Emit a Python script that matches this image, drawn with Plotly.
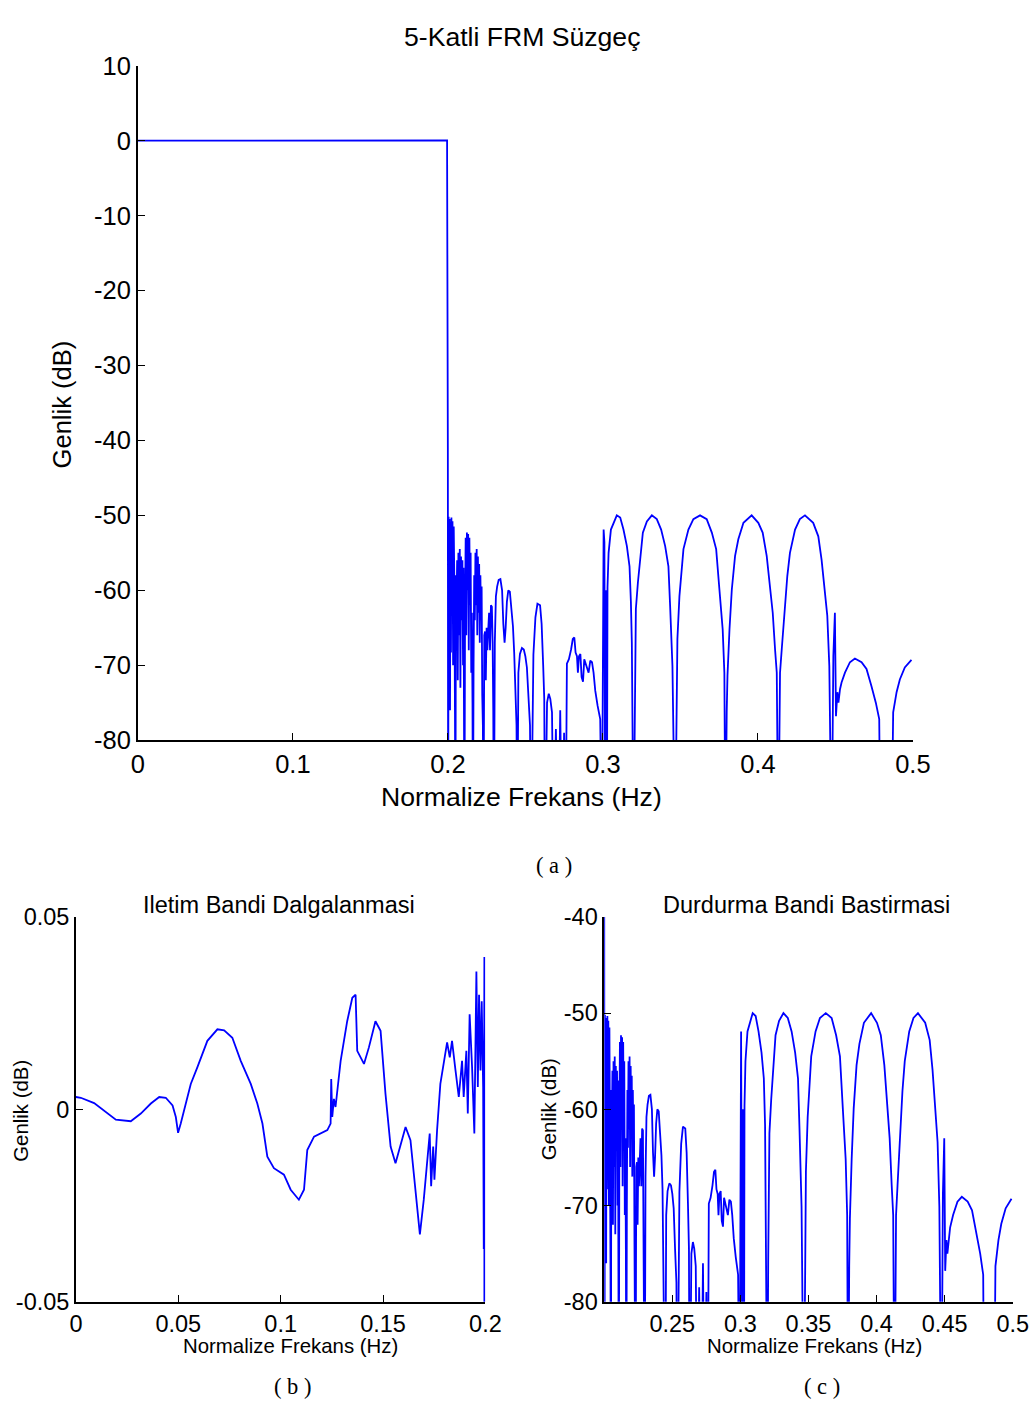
import plotly.graph_objects as go

# ---------------- data ----------------
# Passband ripple (dB) 0 .. 0.2
pass_f = [0.0, 0.0024, 0.0089, 0.0138, 0.0195, 0.0268, 0.0317, 0.0366, 0.0407, 0.0439,
          0.0472, 0.0488, 0.0499, 0.0512, 0.0537, 0.0561, 0.0593, 0.0642, 0.0691, 0.0724,
          0.0764, 0.0805, 0.0854, 0.0886, 0.0911, 0.0935, 0.0967, 0.1016, 0.1049, 0.1089,
          0.1114, 0.1130, 0.1163, 0.1228, 0.1244, 0.1247, 0.1252, 0.1260, 0.1268, 0.1293,
          0.1325, 0.1350, 0.1366, 0.1374, 0.1407, 0.1431, 0.1463, 0.1488, 0.1512, 0.1537,
          0.1561, 0.1585, 0.1610, 0.1634, 0.1659, 0.1680, 0.1699, 0.1715, 0.1728, 0.1735,
          0.1745, 0.1751, 0.1764, 0.1780, 0.1797, 0.1813, 0.1826, 0.1837, 0.1854, 0.1870,
          0.1886, 0.1894, 0.1907, 0.1914, 0.1923, 0.1935, 0.1946, 0.1956, 0.1963, 0.1969,
          0.1976, 0.1982, 0.1989, 0.1992, 0.1995]
pass_db = [0.0032, 0.0030, 0.0016, -0.0003, -0.0027, -0.0031, -0.0011, 0.0015, 0.0032, 0.0030,
           0.0010, -0.0020, -0.0061, -0.0037, 0.0015, 0.0066, 0.0109, 0.0178, 0.0208, 0.0205,
           0.0186, 0.0126, 0.0066, 0.0015, -0.0037, -0.0123, -0.0153, -0.0170, -0.0209, -0.0235,
           -0.0209, -0.0106, -0.0071, -0.0054, -0.0037, 0.0079, -0.0020, 0.0027, 0.0006, 0.0126,
           0.0229, 0.0290, 0.0298, 0.0152, 0.0118, 0.0161, 0.0229, 0.0204, 0.0040, -0.0097,
           -0.0140, -0.0097, -0.0046, -0.0080, -0.0217, -0.0325, -0.0235, -0.0131, -0.0063, -0.0200,
           -0.0097, -0.0183, -0.0054, 0.0066, 0.0126, 0.0174, 0.0135, 0.0178, 0.0101, 0.0032,
           0.0126, 0.0032, 0.0152, -0.0011, 0.0247, 0.0109, -0.0063, 0.0358, 0.0058, 0.0298,
           0.0101, 0.0281, 0.0058, -0.0363, 0.0396]

# Stopband attenuation (dB) 0.2 .. 0.5
stop_f = [0.2000, 0.2002, 0.2005, 0.2008, 0.2011, 0.2014, 0.2017, 0.2020, 0.2023, 0.2026,
          0.2030, 0.2034, 0.2038, 0.2042, 0.2046, 0.2049, 0.2052, 0.2056, 0.2060, 0.2064,
          0.2068, 0.2072, 0.2077, 0.2081, 0.2085, 0.2089, 0.2094, 0.2098, 0.2101, 0.2104,
          0.2107, 0.2111, 0.2115, 0.2119, 0.2123, 0.2127, 0.2131, 0.2135, 0.2139, 0.2143,
          0.2147, 0.2151, 0.2155, 0.2159, 0.2162, 0.2166, 0.2170, 0.2174, 0.2178, 0.2182,
          0.2186, 0.2190, 0.2194, 0.2198, 0.2202, 0.2206, 0.2210, 0.2214, 0.2218, 0.2222,
          0.2226, 0.2230, 0.2235, 0.2240, 0.2245, 0.2250, 0.2255, 0.2260, 0.2266, 0.2272,
          0.2278, 0.2284, 0.2289, 0.2293, 0.2297, 0.2303, 0.2310, 0.2318, 0.2328, 0.2339,
          0.2350, 0.2358, 0.2366, 0.2373, 0.2381, 0.2390, 0.2400, 0.2410, 0.2420, 0.2428,
          0.2435, 0.2443, 0.2448, 0.2455, 0.2465, 0.2478, 0.2490, 0.2500, 0.2510, 0.2520,
          0.2530, 0.2537, 0.2552, 0.2565, 0.2578, 0.2595, 0.2605, 0.2615, 0.2622, 0.2627,
          0.2640, 0.2651, 0.2661, 0.2672, 0.2683, 0.2697, 0.2712, 0.2725, 0.2737, 0.2750,
          0.2760, 0.2768, 0.2781, 0.2795, 0.2806, 0.2816, 0.2824, 0.2833, 0.2839, 0.2846,
          0.2855, 0.2863, 0.2872, 0.2880, 0.2893, 0.2908, 0.2919, 0.2930, 0.2940, 0.2951,
          0.2966, 0.2983, 0.2994, 0.3005, 0.3010, 0.3015, 0.3020, 0.3026, 0.3030, 0.3037,
          0.3052, 0.3069, 0.3090, 0.3112, 0.3133, 0.3155, 0.3172, 0.3181, 0.3187, 0.3198,
          0.3204, 0.3213, 0.3226, 0.3241, 0.3258, 0.3284, 0.3316, 0.3348, 0.3376, 0.3402,
          0.3423, 0.3434, 0.3449, 0.3466, 0.3481, 0.3494, 0.3520, 0.3552, 0.3584, 0.3627,
          0.3670, 0.3703, 0.3731, 0.3752, 0.3773, 0.3784, 0.3791, 0.3799, 0.3804, 0.3817,
          0.3832, 0.3853, 0.3874, 0.3907, 0.3960, 0.4003, 0.4031, 0.4057, 0.4079, 0.4096,
          0.4111, 0.4122, 0.4132, 0.4143, 0.4154, 0.4175, 0.4190, 0.4207, 0.4240, 0.4271,
          0.4304, 0.4357, 0.4390, 0.4411, 0.4433, 0.4448, 0.4461, 0.4476, 0.4487, 0.4497,
          0.4504, 0.4513, 0.4520, 0.4530, 0.4540, 0.4562, 0.4594, 0.4626, 0.4669, 0.4701,
          0.4733, 0.4761, 0.4783, 0.4791, 0.4862, 0.4873, 0.4895, 0.4916, 0.4948, 0.4991]
stop_db = [-41.0, -95.0, -50.2, -68.0, -50.5, -76.0, -51.0, -68.3, -50.3, -60.0,
           -50.8, -70.0, -51.5, -59.0, -76.5, -95.0, -58.0, -62.0, -56.0, -72.0,
           -55.0, -66.0, -54.5, -73.0, -55.5, -64.0, -56.0, -70.0, -57.0, -74.0,
           -95.0, -62.0, -53.0, -66.0, -52.3, -60.0, -52.5, -68.0, -53.0, -62.0,
           -55.0, -71.0, -63.0, -75.0, -95.0, -70.0, -58.0, -64.0, -55.0, -62.0,
           -54.5, -66.0, -55.5, -63.0, -56.5, -67.0, -58.0, -64.0, -59.5, -74.0,
           -78.0, -95.0, -66.0, -65.5, -72.0, -65.0, -68.0, -65.5, -63.0, -68.0,
           -62.0, -62.2, -67.0, -76.0, -95.0, -67.0, -60.8, -59.5, -58.6, -58.5,
           -60.0, -64.5, -67.0, -65.0, -61.5, -60.0, -60.2, -62.5, -64.8, -68.3,
           -73.2, -78.0, -95.0, -71.0, -68.5, -67.7, -67.9, -68.8, -70.3, -74.5,
           -78.0, -95.0, -68.6, -63.6, -61.8, -62.0, -64.5, -70.0, -74.5, -95.0,
           -75.0, -73.8, -74.5, -76.3, -95.0, -78.5, -95.0, -76.0, -95.0, -79.0,
           -95.0, -69.8, -69.2, -67.9, -66.5, -66.3, -68.3, -68.8, -71.0, -68.8,
           -68.5, -71.6, -72.2, -69.2, -70.1, -71.0, -69.4, -69.6, -71.0, -73.4,
           -75.4, -77.2, -95.0, -51.9, -53.6, -95.0, -60.0, -95.0, -59.6, -55.0,
           -51.9, -51.0, -50.0, -50.3, -51.9, -54.1, -56.8, -61.6, -67.0, -95.0,
           -75.9, -62.5, -59.0, -55.9, -52.3, -50.8, -50.0, -50.5, -51.9, -54.1,
           -56.8, -62.1, -70.1, -95.0, -66.5, -60.8, -54.5, -51.9, -50.5, -50.0,
           -50.5, -52.3, -54.5, -59.9, -65.2, -71.0, -95.0, -76.3, -71.4, -65.2,
           -59.9, -55.4, -53.2, -51.0, -50.0, -51.0, -52.3, -55.4, -59.4, -63.0,
           -67.9, -71.0, -95.0, -71.0, -67.9, -62.1, -58.1, -55.0, -51.9, -50.5,
           -50.0, -51.0, -52.8, -55.9, -59.9, -63.4, -70.1, -95.0, -68.8, -63.0,
           -76.8, -73.6, -75.0, -73.2, -72.3, -71.0, -69.6, -69.1, -69.6, -70.5,
           -72.8, -75.0, -77.2, -95.0, -95.0, -76.3, -73.6, -71.9, -70.3, -69.3]

# Tick values / labels
a_xticks = [0, 0.1, 0.2, 0.3, 0.4, 0.5]
a_xlabels = ["0", "0.1", "0.2", "0.3", "0.4", "0.5"]
a_yticks = [10, 0, -10, -20, -30, -40, -50, -60, -70, -80]
a_ylabels = ["10", "0", "-10", "-20", "-30", "-40", "-50", "-60", "-70", "-80"]
b_xticks = [0, 0.05, 0.1, 0.15, 0.2]
b_xlabels = ["0", "0.05", "0.1", "0.15", "0.2"]
b_yticks = [0.05, 0, -0.05]
b_ylabels = ["0.05", "0", "-0.05"]
c_xticks = [0.25, 0.3, 0.35, 0.4, 0.45, 0.5]
c_xlabels = ["0.25", "0.3", "0.35", "0.4", "0.45", "0.5"]
c_yticks = [-40, -50, -60, -70, -80]
c_ylabels = ["-40", "-50", "-60", "-70", "-80"]

freq = pass_f + stop_f
gain = pass_db + stop_db

W, H = 1032, 1408
# measured page -> photo mapping (photo = off + scale * figure pixel)
X_OFF, X_SC = 6.0, 0.977
Y_OFF, Y_SC = 14.2, 0.981
FS = 1 / 0.979
BLUE = "#0000FF"
FONT = "Liberation Sans, Arial, sans-serif"
SERIF = "Liberation Serif, Times New Roman, serif"


def px(x):
    return ((x - X_OFF) / X_SC) / W


def py(y):
    return 1 - ((y - Y_OFF) / Y_SC) / H


def fs(s):
    return round(s * FS, 1)


fig = go.Figure()
for xa, ya in [("x", "y"), ("x2", "y2"), ("x3", "y3")]:
    fig.add_trace(go.Scatter(x=freq, y=gain, mode="lines", xaxis=xa, yaxis=ya,
                             line=dict(color=BLUE, width=1.8), showlegend=False,
                             hoverinfo="skip"))


def ax(domain, rng, tv, tt, size, anchor):
    return dict(domain=domain, range=rng, tickvals=tv, ticktext=tt, anchor=anchor,
                showline=True, linecolor="black", linewidth=1.6, mirror=False,
                ticks="inside", ticklen=7, tickwidth=1.4, tickcolor="black",
                showgrid=False, zeroline=False,
                tickfont=dict(family=FONT, size=fs(size), color="black"))


fig.update_layout(
    width=W, height=H,
    margin=dict(l=0, r=0, t=0, b=0),
    paper_bgcolor="white", plot_bgcolor="white",
    xaxis=ax([px(137), px(913)], [0, 0.5], a_xticks, a_xlabels, 25, "y"),
    yaxis=ax([py(741), py(66)], [-80, 10], a_yticks, a_ylabels, 25, "x"),
    xaxis2=ax([px(75), px(485)], [0, 0.2], b_xticks, b_xlabels, 23, "y2"),
    yaxis2=ax([py(1303), py(918)], [-0.05, 0.05], b_yticks, b_ylabels, 23, "x2"),
    xaxis3=ax([px(604), px(1013)], [0.2, 0.5], c_xticks, c_xlabels, 23, "y3"),
    yaxis3=ax([py(1303), py(918)], [-80, -40], c_yticks, c_ylabels, 23, "x3"),
)


def note(text, x, y, size, family=FONT, angle=0):
    fig.add_annotation(text=text, x=px(x), y=py(y), xref="paper", yref="paper",
                       showarrow=False, xanchor="center", yanchor="middle",
                       textangle=angle, font=dict(family=family, size=fs(size), color="black"))


note("5-Katli FRM Süzgeç", 522, 37, 26)
note("Normalize Frekans (Hz)", 521, 798, 26)
note("Genlik (dB)", 62, 405, 25, angle=-90)
note("( a )", 554, 866, 22, family=SERIF)

note("Iletim Bandi Dalgalanmasi", 278, 906, 23)
note("Normalize Frekans (Hz)", 290, 1347, 20)
note("Genlik (dB)", 20, 1112, 20, angle=-90)
note("( b )", 292, 1388, 22, family=SERIF)

note("Durdurma Bandi Bastirmasi", 807, 906, 23)
note("Normalize Frekans (Hz)", 815, 1347, 20)
note("Genlik (dB)", 548, 1110, 20, angle=-90)
note("( c )", 822, 1388, 22, family=SERIF)

fig.write_html("out.html")
